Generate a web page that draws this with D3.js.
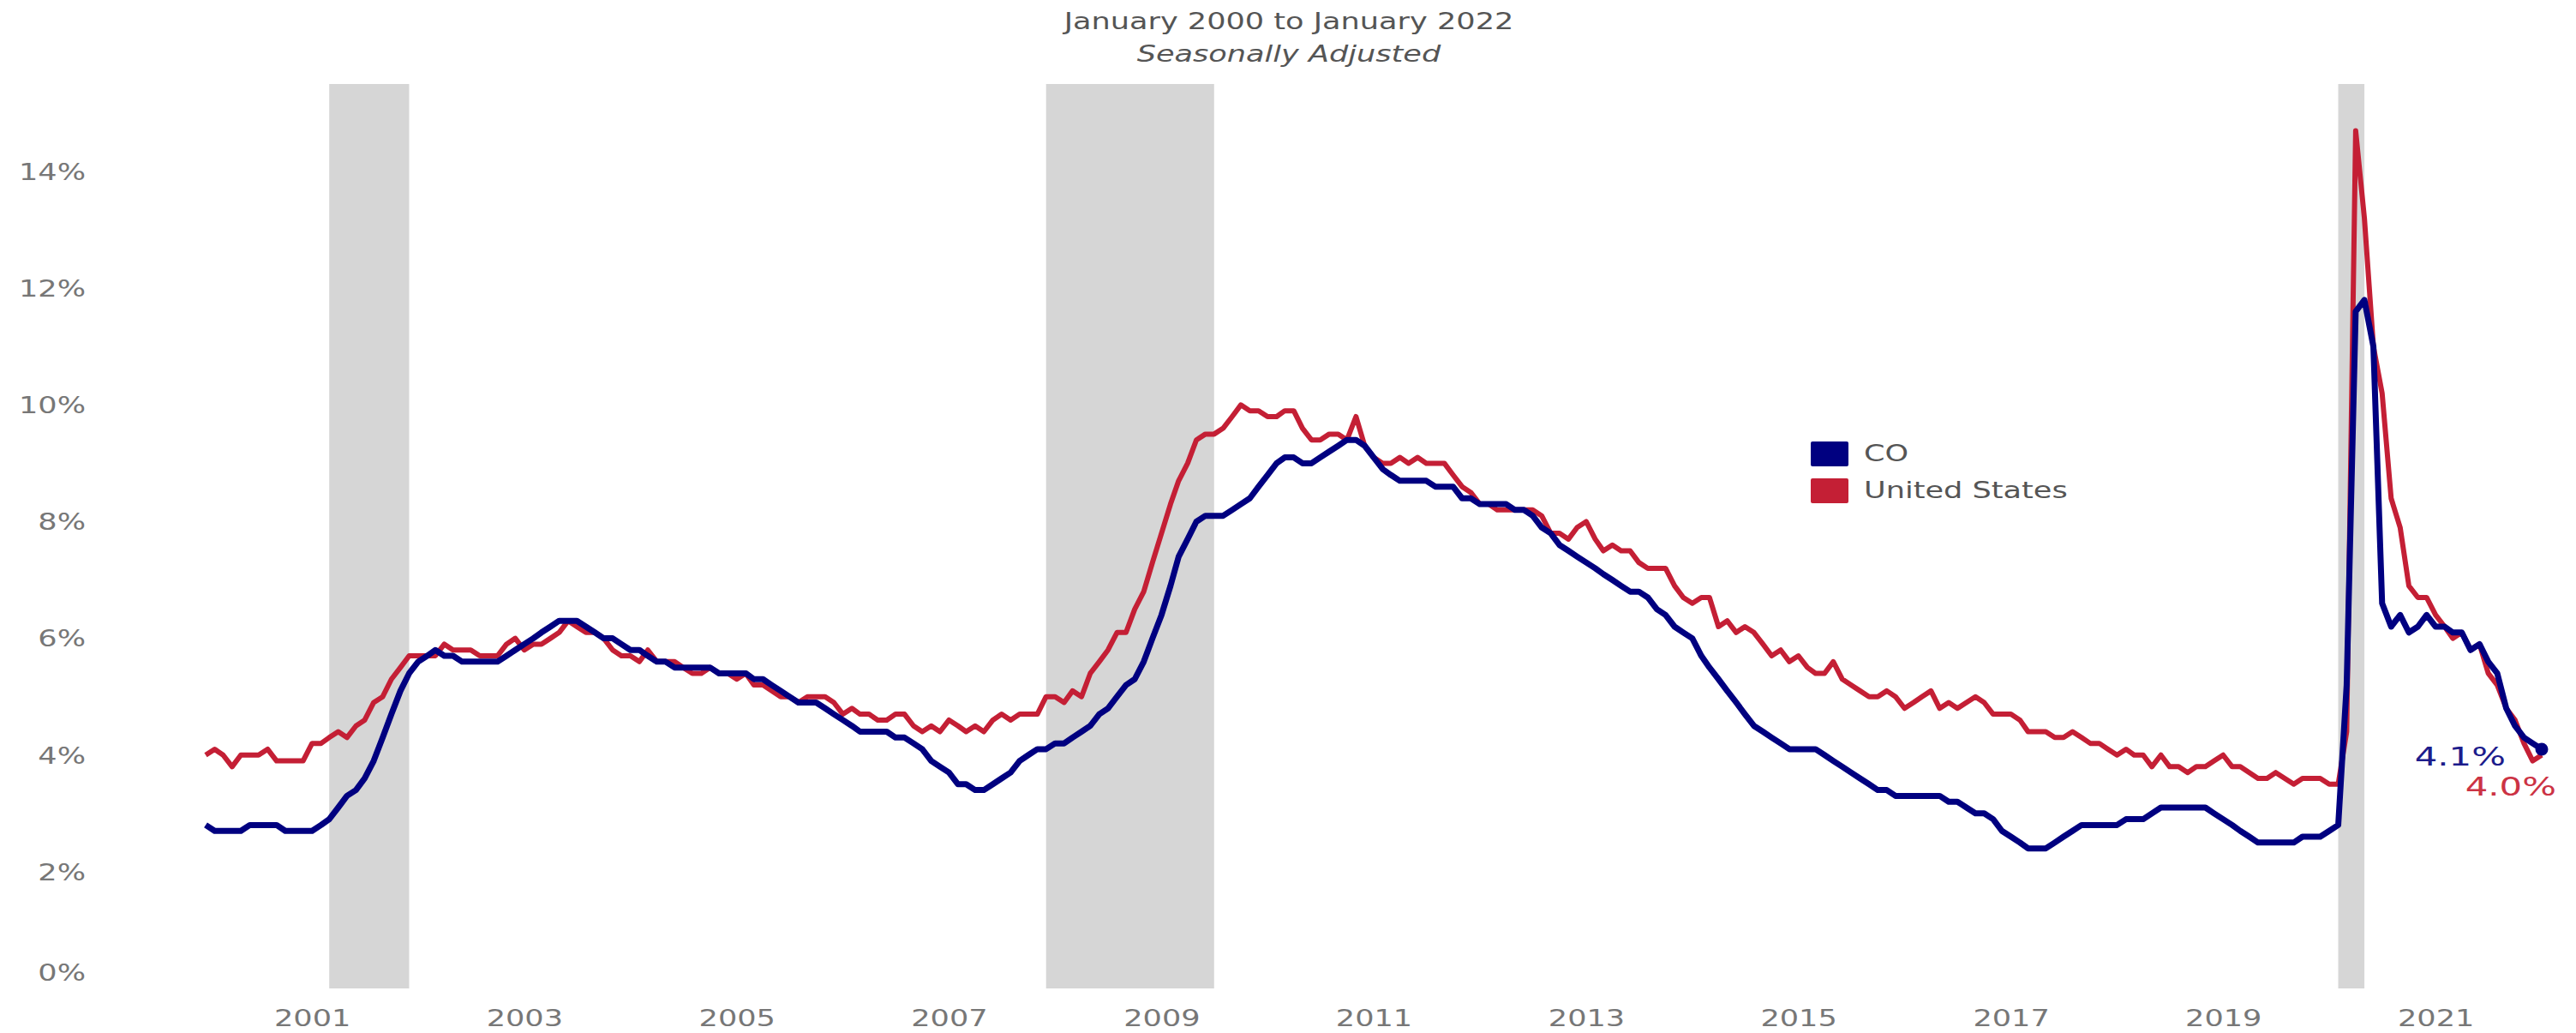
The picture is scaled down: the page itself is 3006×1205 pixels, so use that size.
<!DOCTYPE html>
<html>
<head>
<meta charset="utf-8">
<title>Unemployment Rate CO vs US</title>
<script src="https://d3js.org/d3.v7.min.js"></script>
<style>
  body { margin: 0; background: #fff; }
  text { font-family: "DejaVu Sans", sans-serif; }
</style>
</head>
<body>
<div id="chart"></div>
<script>
// monthly values, Jan 2000 .. Jan 2022 (one row per year)
let startMonth = "2000-01"

let coRate = [
  2.8, 2.7, 2.7, 2.7, 2.7, 2.8, 2.8, 2.8, 2.8, 2.7, 2.7, 2.7,
  2.7, 2.8, 2.9, 3.1, 3.3, 3.4, 3.6, 3.9, 4.3, 4.7, 5.1, 5.4,
  5.6, 5.7, 5.8, 5.7, 5.7, 5.6, 5.6, 5.6, 5.6, 5.6, 5.7, 5.8,
  5.9, 6.0, 6.1, 6.2, 6.3, 6.3, 6.3, 6.2, 6.1, 6.0, 6.0, 5.9,
  5.8, 5.8, 5.7, 5.6, 5.6, 5.5, 5.5, 5.5, 5.5, 5.5, 5.4, 5.4,
  5.4, 5.4, 5.3, 5.3, 5.2, 5.1, 5.0, 4.9, 4.9, 4.9, 4.8, 4.7,
  4.6, 4.5, 4.4, 4.4, 4.4, 4.4, 4.3, 4.3, 4.2, 4.1, 3.9, 3.8,
  3.7, 3.5, 3.5, 3.4, 3.4, 3.5, 3.6, 3.7, 3.9, 4.0, 4.1, 4.1,
  4.2, 4.2, 4.3, 4.4, 4.5, 4.7, 4.8, 5.0, 5.2, 5.3, 5.6, 6.0,
  6.4, 6.9, 7.4, 7.7, 8.0, 8.1, 8.1, 8.1, 8.2, 8.3, 8.4, 8.6,
  8.8, 9.0, 9.1, 9.1, 9.0, 9.0, 9.1, 9.2, 9.3, 9.4, 9.4, 9.3,
  9.1, 8.9, 8.8, 8.7, 8.7, 8.7, 8.7, 8.6, 8.6, 8.6, 8.4, 8.4,
  8.3, 8.3, 8.3, 8.3, 8.2, 8.2, 8.1, 7.9, 7.8, 7.6, 7.5, 7.4,
  7.3, 7.2, 7.1, 7.0, 6.9, 6.8, 6.8, 6.7, 6.5, 6.4, 6.2, 6.1,
  6.0, 5.7, 5.5, 5.3, 5.1, 4.9, 4.7, 4.5, 4.4, 4.3, 4.2, 4.1,
  4.1, 4.1, 4.1, 4.0, 3.9, 3.8, 3.7, 3.6, 3.5, 3.4, 3.4, 3.3,
  3.3, 3.3, 3.3, 3.3, 3.3, 3.2, 3.2, 3.1, 3.0, 3.0, 2.9, 2.7,
  2.6, 2.5, 2.4, 2.4, 2.4, 2.5, 2.6, 2.7, 2.8, 2.8, 2.8, 2.8,
  2.8, 2.9, 2.9, 2.9, 3.0, 3.1, 3.1, 3.1, 3.1, 3.1, 3.1, 3.0,
  2.9, 2.8, 2.7, 2.6, 2.5, 2.5, 2.5, 2.5, 2.5, 2.6, 2.6, 2.6,
  2.7, 2.8, 5.2, 11.6, 11.8, 11.0, 6.6, 6.2, 6.4, 6.1, 6.2, 6.4,
  6.2, 6.2, 6.1, 6.1, 5.8, 5.9, 5.6, 5.4, 4.8, 4.5, 4.3, 4.2,
  4.1
]

let usRate = [
  4.0, 4.1, 4.0, 3.8, 4.0, 4.0, 4.0, 4.1, 3.9, 3.9, 3.9, 3.9,
  4.2, 4.2, 4.3, 4.4, 4.3, 4.5, 4.6, 4.9, 5.0, 5.3, 5.5, 5.7,
  5.7, 5.7, 5.7, 5.9, 5.8, 5.8, 5.8, 5.7, 5.7, 5.7, 5.9, 6.0,
  5.8, 5.9, 5.9, 6.0, 6.1, 6.3, 6.2, 6.1, 6.1, 6.0, 5.8, 5.7,
  5.7, 5.6, 5.8, 5.6, 5.6, 5.6, 5.5, 5.4, 5.4, 5.5, 5.4, 5.4,
  5.3, 5.4, 5.2, 5.2, 5.1, 5.0, 5.0, 4.9, 5.0, 5.0, 5.0, 4.9,
  4.7, 4.8, 4.7, 4.7, 4.6, 4.6, 4.7, 4.7, 4.5, 4.4, 4.5, 4.4,
  4.6, 4.5, 4.4, 4.5, 4.4, 4.6, 4.7, 4.6, 4.7, 4.7, 4.7, 5.0,
  5.0, 4.9, 5.1, 5.0, 5.4, 5.6, 5.8, 6.1, 6.1, 6.5, 6.8, 7.3,
  7.8, 8.3, 8.7, 9.0, 9.4, 9.5, 9.5, 9.6, 9.8, 10.0, 9.9, 9.9,
  9.8, 9.8, 9.9, 9.9, 9.6, 9.4, 9.4, 9.5, 9.5, 9.4, 9.8, 9.3,
  9.1, 9.0, 9.0, 9.1, 9.0, 9.1, 9.0, 9.0, 9.0, 8.8, 8.6, 8.5,
  8.3, 8.3, 8.2, 8.2, 8.2, 8.2, 8.2, 8.1, 7.8, 7.8, 7.7, 7.9,
  8.0, 7.7, 7.5, 7.6, 7.5, 7.5, 7.3, 7.2, 7.2, 7.2, 6.9, 6.7,
  6.6, 6.7, 6.7, 6.2, 6.3, 6.1, 6.2, 6.1, 5.9, 5.7, 5.8, 5.6,
  5.7, 5.5, 5.4, 5.4, 5.6, 5.3, 5.2, 5.1, 5.0, 5.0, 5.1, 5.0,
  4.8, 4.9, 5.0, 5.1, 4.8, 4.9, 4.8, 4.9, 5.0, 4.9, 4.7, 4.7,
  4.7, 4.6, 4.4, 4.4, 4.4, 4.3, 4.3, 4.4, 4.3, 4.2, 4.2, 4.1,
  4.0, 4.1, 4.0, 4.0, 3.8, 4.0, 3.8, 3.8, 3.7, 3.8, 3.8, 3.9,
  4.0, 3.8, 3.8, 3.7, 3.6, 3.6, 3.7, 3.6, 3.5, 3.6, 3.6, 3.6,
  3.5, 3.5, 4.4, 14.7, 13.2, 11.0, 10.2, 8.4, 7.9, 6.9, 6.7, 6.7,
  6.4, 6.2, 6.0, 6.1, 5.8, 5.9, 5.4, 5.2, 4.8, 4.6, 4.2, 3.9,
  4.0
]

// recessions: first and last month
let recessions = [["2001-03", "2001-11"], ["2007-12", "2009-06"], ["2020-02", "2020-04"]]

let yTicks = [0, 2, 4, 6, 8, 10, 12, 14]
let xTickYears = [2001, 2003, 2005, 2007, 2009, 2011, 2013, 2015, 2017, 2019, 2021]
let seriesNames = ["CO", "United States"]
let titleText = "January 2000 to January 2022"
let subtitleText = "Seasonally Adjusted"

let W = 3006, H = 1205
let coColor = "#000080", usColor = "#c41f35"
let stretchX = 1.35   // text in the picture is drawn wide

let parseMonth = d3.timeParse("%Y-%m")
let first = parseMonth(startMonth)
let months = d3.timeMonth.range(first, d3.timeMonth.offset(first, coRate.length))

let svg = d3.select("#chart")
    .append("svg")
      .attr("width", W)
      .attr("height", H)

let x = d3.scaleTime()
    .domain([months[0], months[months.length - 1]])
    .range([240, 2966])

let y = d3.scaleLinear()
    .domain([0, 15.5])
    .range([1153, 98])

function stretch(sel) {
  sel.each(function() {
    let w = this.getComputedTextLength()
    d3.select(this)
      .attr("textLength", w * stretchX)
      .attr("lengthAdjust", "spacingAndGlyphs")
  })
}

// recession bands
svg.selectAll("rect.band")
  .data(recessions)
  .enter()
  .append("rect")
    .attr("class", "band")
    .attr("x", d => x(parseMonth(d[0])))
    .attr("width", d => x(d3.timeMonth.offset(parseMonth(d[1]), 1)) - x(parseMonth(d[0])))
    .attr("y", y(15.5))
    .attr("height", y(0) - y(15.5))
    .attr("fill", "#d6d6d6")

// axes
let yAxis = svg.append("g")
    .attr("transform", "translate(100,0)")
    .call(d3.axisLeft(y).tickValues(yTicks).tickSize(0).tickPadding(0).tickFormat(d => d + "%"))
yAxis.select(".domain").remove()
yAxis.selectAll("text")
    .attr("font-family", "DejaVu Sans")
    .attr("font-size", 26)
    .attr("fill", "#777")
    .attr("dy", d => d === 0 ? "-0.38em" : "0.36em")
    .call(stretch)

let xAxis = svg.append("g")
    .attr("transform", "translate(0," + y(0) + ")")
    .call(d3.axisBottom(x)
      .tickValues(xTickYears.map(yr => new Date(yr, 0, 1)))
      .tickFormat(d3.timeFormat("%Y"))
      .tickSize(0)
      .tickPadding(26))
xAxis.select(".domain").remove()
xAxis.selectAll("text")
    .attr("font-family", "DejaVu Sans")
    .attr("font-size", 26)
    .attr("fill", "#777")
    .call(stretch)

// lines
let line = d3.line()
    .x((d, i) => x(months[i]))
    .y(d => y(d))

svg.append("path")
    .datum(usRate)
    .attr("d", line)
    .attr("fill", "none")
    .attr("stroke", usColor)
    .attr("stroke-width", 6)
    .attr("stroke-linejoin", "round")

svg.append("path")
    .datum(coRate)
    .attr("d", line)
    .attr("fill", "none")
    .attr("stroke", coColor)
    .attr("stroke-width", 7)
    .attr("stroke-linejoin", "round")

let last = months.length - 1
svg.append("circle")
    .attr("cx", x(months[last]))
    .attr("cy", y(coRate[last]))
    .attr("r", 7.5)
    .attr("fill", coColor)

// end labels
let fmt = d3.format(".1f")
svg.append("text")
    .attr("x", x(months[last]) - 42)
    .attr("y", y(coRate[last]) + 19)
    .attr("text-anchor", "end")
    .attr("font-size", 31)
    .attr("fill", "#1c1c8c")
    .text(fmt(coRate[last]) + "%")
    .call(stretch)

svg.append("text")
    .attr("x", x(months[last]) + 17)
    .attr("y", y(usRate[last]) + 47)
    .attr("text-anchor", "end")
    .attr("font-size", 31)
    .attr("fill", "#cc3344")
    .text(fmt(usRate[last]) + "%")
    .call(stretch)

// title
svg.append("text")
    .attr("x", 1504)
    .attr("y", 34)
    .attr("text-anchor", "middle")
    .attr("font-size", 26)
    .attr("fill", "#555")
    .text(titleText)
    .call(stretch)

svg.append("text")
    .attr("x", 1504)
    .attr("y", 72)
    .attr("text-anchor", "middle")
    .attr("font-size", 26)
    .attr("font-style", "italic")
    .attr("fill", "#555")
    .text(subtitleText)
    .call(stretch)

// legend
let legend = svg.selectAll("g.legend")
  .data(seriesNames)
  .enter()
  .append("g")
    .attr("class", "legend")
    .attr("transform", (d, i) => "translate(2113," + (515 + i * 43) + ")")

legend.append("rect")
    .attr("width", 44)
    .attr("height", 29)
    .attr("rx", 2)
    .attr("fill", (d, i) => i === 0 ? coColor : usColor)

legend.append("text")
    .attr("x", 62)
    .attr("y", 23)
    .attr("font-size", 26)
    .attr("fill", "#555")
    .text(d => d)
    .call(stretch)
</script>
</body>
</html>
